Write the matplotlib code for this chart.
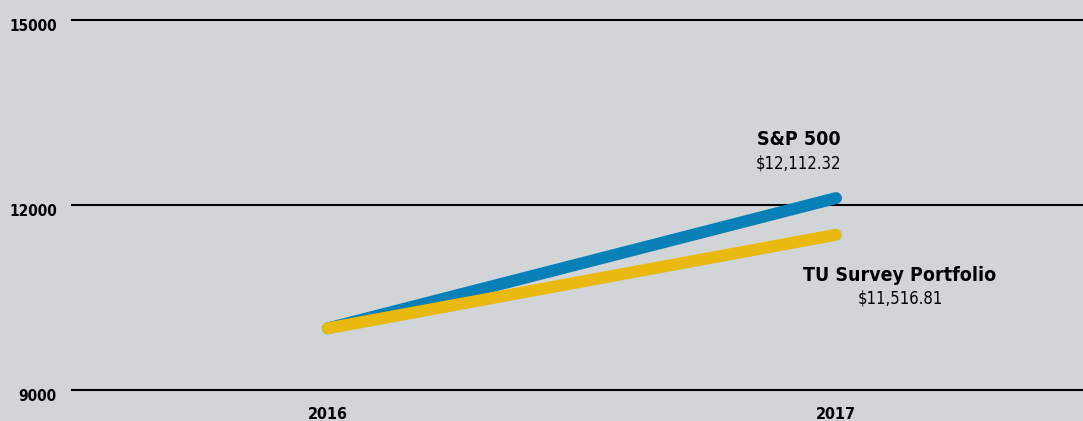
import matplotlib.pyplot as plt
from matplotlib.transforms import ScaledTranslation

years = [2016, 2017]
sp500 = [10000, 12112.32]
tu_survey = [10000, 11516.81]
y_ticks = [9000, 12000, 15000]
x_labels = ["2016", "2017"]

bg = "#d1d5d8"
blue = "#0a80b9"
yellow = "#e9b90f"

plt.rcParams['font.family'] = ['DejaVu Sans']
plt.rcParams['font.stretch'] = 'condensed'

fig = plt.figure(figsize=(10.83, 4.21), dpi=100, facecolor=bg)
ax = fig.add_axes([72 / 1083, 31 / 421, 1 - 72 / 1083, 370 / 421])
ax.set_facecolor(bg)

ax.plot(years, sp500, color=blue, linewidth=8.6, solid_capstyle='round', zorder=3)
ax.plot(years, tu_survey, color=yellow, linewidth=8.6, solid_capstyle='round', zorder=4)

ax.set_xlim(2016 - 256 / 508, 2017 + 247 / 508)
ax.set_ylim(9000, 15000)

for v in y_ticks:
    ax.axhline(v, color="black", linewidth=1.5, zorder=2, clip_on=False)

ax.set_yticks(y_ticks)
ax.set_yticklabels([str(v) for v in y_ticks], fontsize=11, fontweight='bold')
ax.set_xticks(years)
ax.set_xticklabels(x_labels, fontsize=11.5, fontweight='bold')
ax.tick_params(axis='y', length=0, pad=11)
ax.tick_params(axis='x', length=0, pad=12)
# y labels sit a little below their lines
shift = ScaledTranslation(0, -5 / 100, fig.dpi_scale_trans)
for lab in ax.get_yticklabels():
    lab.set_transform(lab.get_transform() + shift)
for s in ax.spines.values():
    s.set_visible(False)

ax.annotate("S&P 500", (years[1], sp500[1]), xytext=(-27, 42), textcoords='offset points',
            ha='center', va='center', fontsize=14, fontweight='bold')
ax.annotate("$12,112.32", (years[1], sp500[1]), xytext=(-27, 25), textcoords='offset points',
            ha='center', va='center', fontsize=12)
ax.annotate("TU Survey Portfolio", (years[1], tu_survey[1]), xytext=(46, -29), textcoords='offset points',
            ha='center', va='center', fontsize=14, fontweight='bold')
ax.annotate("$11,516.81", (years[1], tu_survey[1]), xytext=(46, -46), textcoords='offset points',
            ha='center', va='center', fontsize=12)

fig.savefig("out.png", dpi=100, facecolor=bg)
